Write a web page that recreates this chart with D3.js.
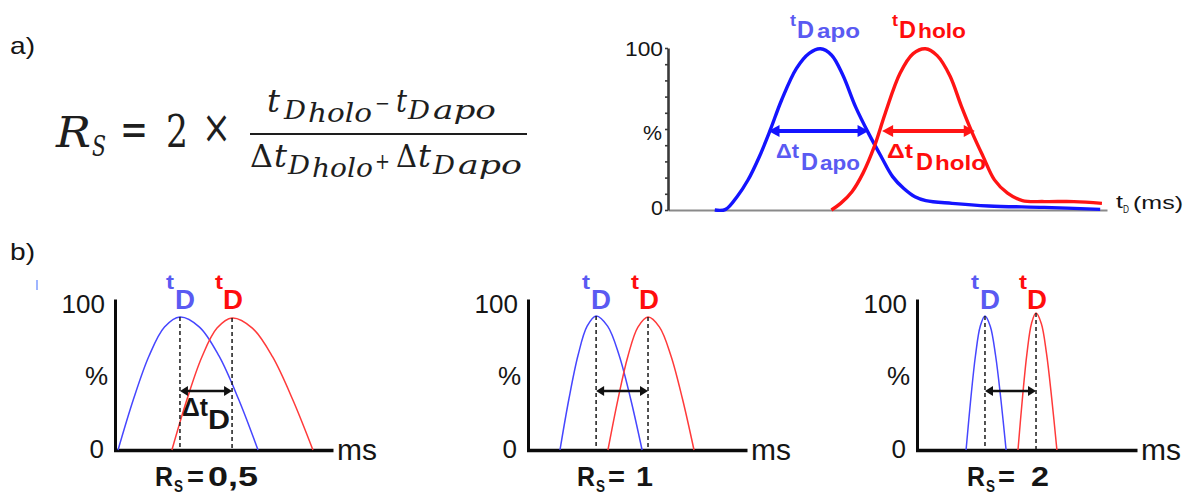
<!DOCTYPE html>
<html><head><meta charset="utf-8">
<script src="https://cdn.jsdelivr.net/npm/d3@7"></script>
<style>html,body{margin:0;padding:0;background:#fff;}svg{display:block;}</style>
</head><body>
<svg id="fig" width="1187" height="495"></svg>
<script>
// ================= DATA =================
const yTickLabels = ["100", "%", "0"];
const xAxisLabelTop = ["t", "D", "(ms)"];
const msLabel = "ms";

// panel a) : drift-time distributions (ms, % intensity)
const topApoMs  = [10.7,13.2,15.8,18.3,20.9,23.4,26.0,29.4,32.3,34.9,37.4,40.0,42.9,45.9,48.8,51.4,53.9,56.5,59.0,65.0,73.4,86.1,98.9];
const topApoPct = [0,0.4,8.2,18.5,32.9,49.4,67.9,87.4,96.7,99.5,95.7,83.3,63.8,47.3,32.9,20.6,13.4,8.2,5.8,4.1,2.5,1.6,0.4];
const topHoloMs  = [37.4,39.5,42.1,44.6,47.2,49.7,53.1,56.1,58.9,61.6,64.5,67.1,69.6,72.1,74.7,77.7,81.1,86.1,92.9,99.3];
const topHoloPct = [0,4.1,11.3,22.6,39.1,59.6,84.4,96.5,99.5,95.3,82.9,64.3,47.8,33.1,18.6,10.4,5.8,5.2,5.2,4.1];
const topHalfPct = 48.8;
const topApoWidth  = [23.0, 45.9];
const topHoloWidth = [49.0, 70.2];

// panel b) : three idealised separations (ms, %)
const rsValues = ["0,5", "1", "2"];
const rs05ApoMs   = [1.4,8.5,15.6,22.7,29.8,38.75,47.7,56.65,65.6];
const rs05ApoPct  = [0,34.9,64.4,84.2,91.1,84.2,64.4,34.9,0];
const rs05HoloMs  = [26.1,33.0,39.9,46.8,53.7,63.0,72.25,81.5,90.8];
const rs05HoloPct = [0,34.6,63.9,83.5,90.4,83.5,63.9,34.6,0];
const rs1ApoMs    = [14.6,18.7,22.85,27.0,31.1,36.35,41.6,46.85,52.1];
const rs1ApoPct   = [0,35.1,64.9,84.8,91.8,84.8,64.9,35.1,0];
const rs1HoloMs   = [36.5,41.1,45.65,50.2,54.8,60.05,65.3,70.55,75.8];
const rs1HoloPct  = [0,34.9,64.4,84.2,91.1,84.2,64.4,34.9,0];
const rs2ApoMs    = [22.3,24.45,26.6,28.75,30.9,33.3,35.7,38.1,40.5];
const rs2ApoPct   = [0,35.1,64.9,84.8,91.8,84.8,64.9,35.1,0];
const rs2HoloMs   = [45.9,47.95,50.0,52.05,54.1,56.5,58.85,61.2,63.6];
const rs2HoloPct  = [0,35.9,66.3,86.7,93.8,86.7,66.3,35.9,0];
const arrowPct = 40.4;

const zip = (a, b) => a.map((v, i) => [v, b[i]]);
const panelsData = [
  {rs: rsValues[0], apo: zip(rs05ApoMs, rs05ApoPct), holo: zip(rs05HoloMs, rs05HoloPct)},
  {rs: rsValues[1], apo: zip(rs1ApoMs, rs1ApoPct),   holo: zip(rs1HoloMs, rs1HoloPct)},
  {rs: rsValues[2], apo: zip(rs2ApoMs, rs2ApoPct),   holo: zip(rs2HoloMs, rs2HoloPct)}
];

// ================= LAYOUT / STYLE =================
const BLUE = "#1414ff", RED = "#ff1414";
const BLUE_T = "#5a5af2", RED_T = "#ff0d0d";
const SANS = "'Liberation Sans', Arial, sans-serif";
const SERIF = "'DejaVu Serif', serif";
const svg = d3.select("#fig");

function txt(g, s, x, y, o = {}) {
  const t = g.append("text").attr("x", x).attr("y", y).text(s)
    .attr("font-family", o.family || SANS)
    .attr("font-size", o.size || 20)
    .attr("fill", o.fill || "#151515");
  if (o.weight) t.attr("font-weight", o.weight);
  if (o.style) t.attr("font-style", o.style);
  if (o.anchor) t.attr("text-anchor", o.anchor);
  if (o.len) t.attr("textLength", o.len).attr("lengthAdjust", "spacingAndGlyphs");
  return t;
}
function arrow(g, x0, x1, y, color, sw, hl, hw) {
  g.append("line").attr("x1", x0 + hl * 0.8).attr("x2", x1 - hl * 0.8)
    .attr("y1", y).attr("y2", y).attr("stroke", color).attr("stroke-width", sw);
  g.append("path").attr("d", `M${x0},${y}L${x0 + hl},${y - hw}L${x0 + hl},${y + hw}Z`).attr("fill", color);
  g.append("path").attr("d", `M${x1},${y}L${x1 - hl},${y - hw}L${x1 - hl},${y + hw}Z`).attr("fill", color);
}

// ---------- labels a) b) ----------
txt(svg, "a)", 10, 54, {size: 24, len: 25});
txt(svg, "b)", 10, 260, {size: 24, len: 25});
svg.append("line").attr("x1", 37).attr("x2", 37).attr("y1", 280).attr("y2", 290)
  .attr("stroke", "#7f9cff").attr("stroke-width", 1.5);

// ---------- formula ----------
const fg = svg.append("g");
const FC = "#1e1e1e";
txt(fg, "R", 56, 147, {family: SERIF, size: 42, style: "italic", len: 35, fill: FC});
txt(fg, "S", 92, 156, {family: SERIF, size: 27, style: "italic", len: 14, fill: FC});
txt(fg, "=", 120, 145, {family: SERIF, size: 46, len: 28, fill: FC});
txt(fg, "2", 166, 147, {family: SERIF, size: 44, len: 22, fill: FC});
txt(fg, "×", 202, 143, {family: SERIF, size: 46, len: 29, fill: FC});
fg.append("line").attr("x1", 250).attr("x2", 527).attr("y1", 134).attr("y2", 134)
  .attr("stroke", FC).attr("stroke-width", 1.8);
// numerator
txt(fg, "t", 267, 112, {family: SERIF, size: 32, style: "italic", len: 13, fill: FC});
txt(fg, "D", 284, 119, {family: SERIF, size: 26, style: "italic", len: 22, fill: FC});
txt(fg, "holo", 308, 122, {family: SERIF, size: 26, style: "italic", len: 64, fill: FC});
txt(fg, "−", 375, 110, {family: SERIF, size: 20, len: 15, fill: FC});
txt(fg, "t", 396, 112, {family: SERIF, size: 32, style: "italic", len: 11, fill: FC});
txt(fg, "D", 408, 119, {family: SERIF, size: 26, style: "italic", len: 22, fill: FC});
txt(fg, "apo", 433, 119, {family: SERIF, size: 26, style: "italic", len: 63, fill: FC});
// denominator
txt(fg, "Δ", 250, 167, {family: SERIF, size: 32, len: 23, fill: FC});
txt(fg, "t", 274, 167, {family: SERIF, size: 32, style: "italic", len: 13, fill: FC});
txt(fg, "D", 288, 174, {family: SERIF, size: 26, style: "italic", len: 22, fill: FC});
txt(fg, "holo", 312, 177, {family: SERIF, size: 26, style: "italic", len: 61, fill: FC});
txt(fg, "+", 375, 169, {family: SERIF, size: 22, len: 15, fill: FC});
txt(fg, "Δ", 396, 167, {family: SERIF, size: 32, len: 21, fill: FC});
txt(fg, "t", 418, 167, {family: SERIF, size: 32, style: "italic", len: 13, fill: FC});
txt(fg, "D", 433, 174, {family: SERIF, size: 26, style: "italic", len: 22, fill: FC});
txt(fg, "apo", 458, 174, {family: SERIF, size: 26, style: "italic", len: 64, fill: FC});

// ---------- top chart ----------
const tx = d3.scaleLinear().domain([0, 100]).range([668, 1105]);
const ty = d3.scaleLinear().domain([0, 100]).range([210, 48]);
const topG = svg.append("g");
const xAxTop = topG.append("g").attr("transform", "translate(0,210)")
  .call(d3.axisBottom(tx.copy().range([668, 1107])).tickValues([]).tickSizeOuter(0));
xAxTop.select(".domain").attr("stroke", "#8a8a8a").attr("stroke-width", 2.2);
const yAxTop = topG.append("g").attr("transform", "translate(668,0)")
  .call(d3.axisLeft(ty).tickValues(d3.range(0, 101, 10)).tickSize(3).tickSizeOuter(0).tickFormat(""));
yAxTop.select(".domain").attr("stroke", "#3a3a3a").attr("stroke-width", 2.6);
yAxTop.selectAll(".tick line").attr("stroke", "#3a3a3a").attr("stroke-width", 1.6);

txt(topG, yTickLabels[0], 625, 56, {size: 20, len: 38});
txt(topG, yTickLabels[1], 643, 140, {size: 20, len: 19});
txt(topG, yTickLabels[2], 651, 215, {size: 20, len: 12});
txt(topG, xAxisLabelTop[0], 1116, 208, {size: 19, len: 7});
txt(topG, xAxisLabelTop[1], 1123, 213, {size: 10, len: 6});
txt(topG, xAxisLabelTop[2], 1133, 209, {size: 19, len: 50});

const lineTop = d3.line().x(d => tx(d[0])).y(d => ty(d[1])).curve(d3.curveCatmullRom.alpha(0.5));
topG.append("path").attr("d", lineTop(zip(topApoMs, topApoPct)))
  .attr("fill", "none").attr("stroke", BLUE).attr("stroke-width", 3.4).attr("stroke-linejoin", "round");
topG.append("path").attr("d", lineTop(zip(topHoloMs, topHoloPct)))
  .attr("fill", "none").attr("stroke", RED).attr("stroke-width", 3.4).attr("stroke-linejoin", "round");
arrow(topG, tx(topApoWidth[0]), tx(topApoWidth[1]), ty(topHalfPct), BLUE, 4, 11, 6);
arrow(topG, tx(topHoloWidth[0]), tx(topHoloWidth[1]), ty(topHalfPct), RED, 4, 11, 6);

// labels tD apo / holo
txt(topG, "t", 790, 26, {size: 16, weight: "bold", fill: BLUE_T, len: 6});
txt(topG, "D", 797, 38, {size: 24, weight: "bold", fill: BLUE_T, len: 17});
txt(topG, "apo", 817, 38, {size: 21, weight: "bold", fill: BLUE_T, len: 43});
txt(topG, "t", 892, 26, {size: 16, weight: "bold", fill: RED_T, len: 6});
txt(topG, "D", 899, 38, {size: 24, weight: "bold", fill: RED_T, len: 17});
txt(topG, "holo", 918, 38, {size: 21, weight: "bold", fill: RED_T, len: 48});
txt(topG, "Δt", 776, 158, {size: 21, weight: "bold", fill: BLUE_T, len: 23});
txt(topG, "D", 801, 170, {size: 24, weight: "bold", fill: BLUE_T, len: 17});
txt(topG, "apo", 820, 170, {size: 21, weight: "bold", fill: BLUE_T, len: 40});
txt(topG, "Δt", 887, 158, {size: 21, weight: "bold", fill: RED_T, len: 26});
txt(topG, "D", 916, 170, {size: 24, weight: "bold", fill: RED_T, len: 17});
txt(topG, "holo", 935, 170, {size: 21, weight: "bold", fill: RED_T, len: 51});

// ---------- bottom panels ----------
const panelLayout = [
  {ax: 115, axEnd: 333, rsX: 155, eqX: 187, valX: 208, valLen: 50, showDelta: true},
  {ax: 528, axEnd: 747, rsX: 577, eqX: 608, valX: 636, valLen: 17, showDelta: false},
  {ax: 917, axEnd: 1137, rsX: 967, eqX: 998, valX: 1031, valLen: 18, showDelta: false}
];
const Y0 = 450, Y100 = 304;

panelsData.forEach((pd, i) => {
  const L = panelLayout[i];
  const g = svg.append("g");
  const x = d3.scaleLinear().domain([0, 100]).range([L.ax, L.axEnd]);
  const y = d3.scaleLinear().domain([0, 100]).range([Y0, Y100]);

  const xa = g.append("g").attr("transform", `translate(0,${Y0})`)
    .call(d3.axisBottom(x.copy().range([L.ax - 1.5, L.axEnd])).tickValues([]).tickSizeOuter(0));
  xa.select(".domain").attr("stroke", "#0a0a0a").attr("stroke-width", 3.4);
  const ya = g.append("g").attr("transform", `translate(${L.ax},0)`)
    .call(d3.axisLeft(y.copy().range([Y0 + 1.5, 299])).tickValues([]).tickSizeOuter(0));
  ya.select(".domain").attr("stroke", "#0a0a0a").attr("stroke-width", 3);

  txt(g, yTickLabels[0], L.ax - 10, 313, {size: 26, anchor: "end"});
  txt(g, yTickLabels[1], L.ax - 7, 385, {size: 26, anchor: "end"});
  txt(g, yTickLabels[2], L.ax - 11, 458, {size: 26, anchor: "end"});
  txt(g, msLabel, L.axEnd + 4, 460, {size: 30, len: 40});

  const ln = d3.line().x(d => x(d[0])).y(d => y(d[1])).curve(d3.curveCatmullRom.alpha(0.5));
  g.append("path").attr("d", ln(pd.apo)).attr("fill", "none").attr("stroke", "#4646ff").attr("stroke-width", 1.5);
  g.append("path").attr("d", ln(pd.holo)).attr("fill", "none").attr("stroke", "#ff3a3a").attr("stroke-width", 1.5);

  const pkA = pd.apo.reduce((a, b) => (b[1] > a[1] ? b : a));
  const pkH = pd.holo.reduce((a, b) => (b[1] > a[1] ? b : a));
  [pkA, pkH].forEach(p => {
    g.append("line").attr("x1", x(p[0])).attr("x2", x(p[0]))
      .attr("y1", y(p[1])).attr("y2", Y0 - 1)
      .attr("stroke", "#1a1a1a").attr("stroke-width", 1.5).attr("stroke-dasharray", "4,3");
  });
  arrow(g, x(pkA[0]), x(pkH[0]), y(arrowPct), "#111", 2.6, 8, 5);

  [[pkA, BLUE_T], [pkH, RED_T]].forEach(([p, c], k) => {
    const px = x(p[0]);
    txt(g, "t", px - (k ? 17 : 14), 289, {size: 21, weight: "bold", fill: c, len: 8});
    txt(g, "D", px - (k ? 9 : 5), 309, {size: 28, weight: "bold", fill: c, len: 20});
  });

  if (L.showDelta) {
    txt(g, "Δt", x(pkA[0]) + 2, 416, {size: 25, weight: "bold", len: 26});
    txt(g, "D", x(pkA[0]) + 28, 429, {size: 27, weight: "bold", len: 22});
  }

  txt(g, "R", L.rsX, 486, {size: 27, weight: "bold", len: 18});
  txt(g, "S", L.rsX + 19, 492, {size: 16, weight: "bold", len: 9});
  txt(g, "=", L.eqX, 486, {size: 27, weight: "bold", len: 17});
  txt(g, pd.rs, L.valX, 486, {size: 27, weight: "bold", len: L.valLen});
});
</script>
</body></html>
